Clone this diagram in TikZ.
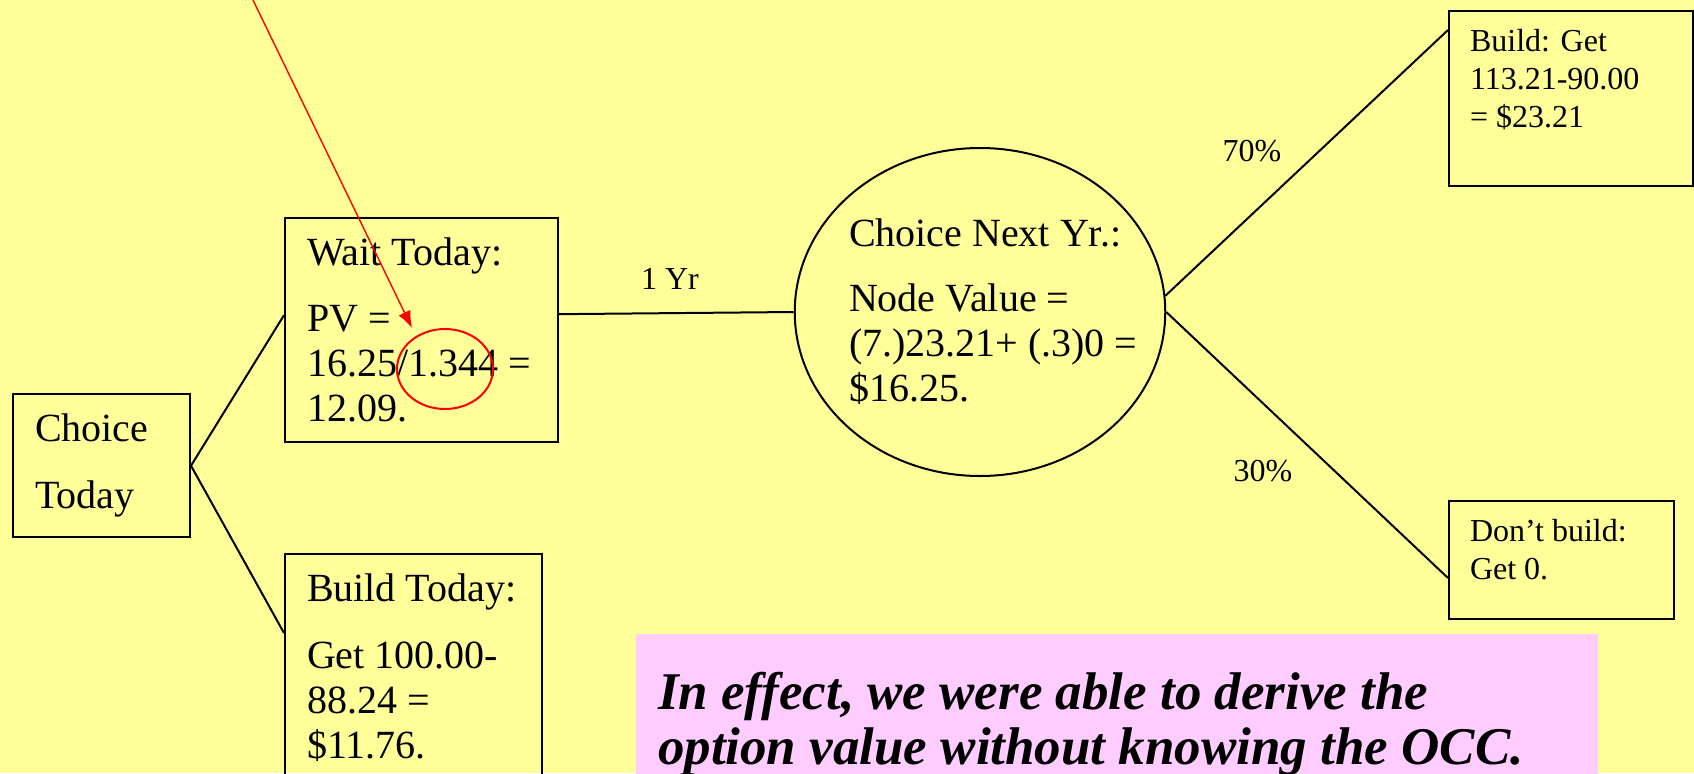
\documentclass[tikz,border=0pt]{standalone}
\usepackage{fontspec}
\setmainfont{Liberation Serif}
\usepackage{tikz}
\usetikzlibrary{shapes,arrows,arrows.meta,positioning}

\definecolor{slideyellow}{RGB}{255,255,153}
\definecolor{notepink}{RGB}{255,204,255}

% text held at the top of a box of fixed height
\newcommand{\topfill}[3]{\parbox[t][#1][t]{#2}{\raggedright #3}}

\begin{document}
\begin{tikzpicture}[x=0.5pt, y=-0.5pt, line width=1pt]
    % Define styles
    \tikzstyle{leftbox} = [rectangle, draw=black, anchor=north west, align=flush left, inner xsep=11pt, inner ysep=10pt, font=\fontsize{20pt}{22.5pt}\selectfont]
    \tikzstyle{rightbox} = [rectangle, draw=black, anchor=north west, inner xsep=10.5pt, inner ysep=9pt, font=\fontsize{16pt}{19pt}\selectfont]
    \tikzstyle{chance} = [ellipse, draw=black, minimum width=184pt, minimum height=164pt, inner sep=0pt, text width=131pt, align=flush left, font=\fontsize{20pt}{22.5pt}\selectfont]
    \tikzstyle{prob} = [font=\fontsize{16pt}{19pt}\selectfont, inner sep=0pt]
    \tikzstyle{note} = [rectangle, fill=notepink, anchor=north west, align=flush left, inner xsep=11pt, inner ysep=12.5pt, text width=459pt, minimum height=90pt, font=\fontsize{26.5pt}{27.5pt}\selectfont\bfseries\itshape]

    % Background
    \clip (0,0) rectangle (1694,773);
    \fill[slideyellow] (0,0) rectangle (1694,773);

    % Nodes
    \node[leftbox, text width=66.5pt, minimum height=66.5pt] (today) at (12,393) {Choice\\[11pt]Today};
    \node[leftbox, text width=114.5pt, minimum height=111.5pt] (wait) at (284,217) {Wait Today:\\[10.5pt]PV =\\16.25/1.344 =\\12.09.};
    \node[leftbox] (build) at (284,553) {\topfill{120pt}{106.5pt}{Build Today:\\[11pt]Get 100.00-\\88.24 =\\\$11.76.}};
    \node[chance] (nextyr) at (980,312) {\mbox{Choice Next Yr.:}\\[10pt]Node Value =\\\mbox{(7.)23.21+ (.3)0 =}\\\$16.25.};
    \node[rightbox] (buildget) at (1448,10) {\topfill{69.5pt}{101pt}{Build: Get\\113.21-90.00\\= \$23.21}};
    \node[rightbox] (dontbuild) at (1448,500) {\topfill{41pt}{91.5pt}{Don't build:\\Get 0.}};
    \node[prob] (oneyr) at (670,279) {1 Yr};
    \node[prob] (p70) at (1252,151) {70\%};
    \node[prob] (p30) at (1263,471) {30\%};
    \node[note] (occ) at (635,633) {In effect, we were able to derive the\\option value without knowing the OCC.};

    % Highlight
    \node[ellipse, draw=red, minimum width=48pt, minimum height=40pt, inner sep=0pt] (ratio) at (445,369) {};
    \coordinate (pointer) at (253,0);

    % Connections
    \draw (today.east) -- ([yshift=7.5pt]wait.west);
    \draw (today.east) -- ([yshift=-40pt]build.north west);
    \draw ([yshift=8pt]wait.east) -- (nextyr.west);
    \draw (nextyr.5) -- ([yshift=-10pt]buildget.north west);
    \draw (nextyr.east) -- ([yshift=-9pt]dontbuild.west);
    \draw[red, line width=0.7pt, -{Latex[length=8.5pt, width=6.5pt]}] (pointer) -- ([xshift=-16.5pt]ratio.north);
\end{tikzpicture}
\end{document}
